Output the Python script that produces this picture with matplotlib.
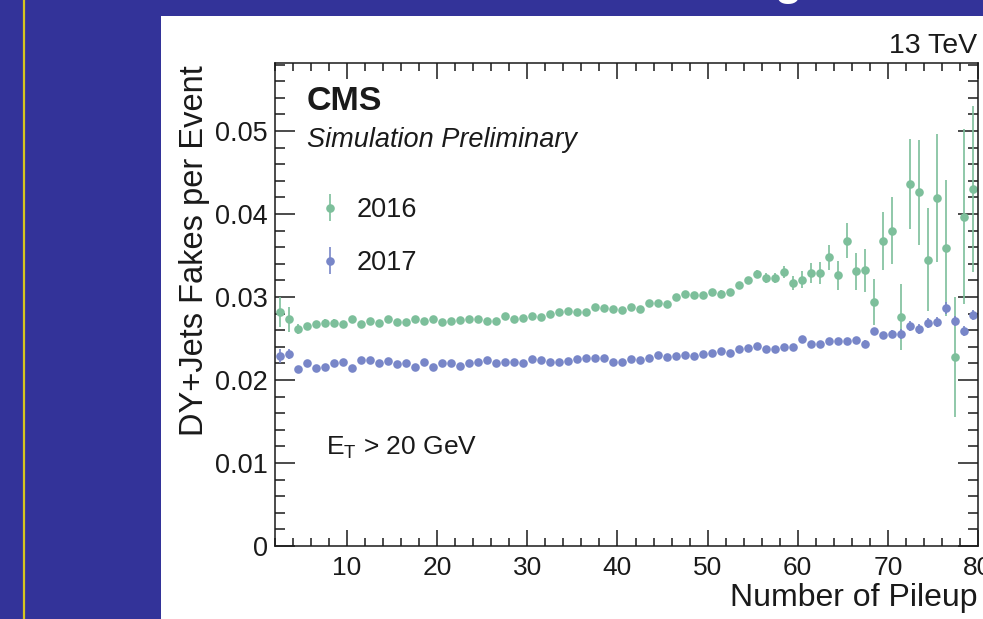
import matplotlib
matplotlib.use("Agg")
import matplotlib.pyplot as plt
from matplotlib.lines import Line2D
from matplotlib.patches import Rectangle
from matplotlib.ticker import MultipleLocator
import numpy as np

plt.rcParams['font.family'] = ['Liberation Sans', 'DejaVu Sans']

# bin centres of the pileup histogram (bins of width 1 from 2 to 80)
pileup = np.arange(2.5, 80.0, 1.0)

fakes_2016 = [
    0.0282, 0.0273, 0.0262, 0.0265, 0.0267, 0.0269, 0.0269, 0.0267, 0.0273, 0.0267,
    0.0271, 0.0269, 0.0274, 0.0270, 0.0270, 0.0273, 0.0271, 0.0273, 0.0270, 0.0271,
    0.0272, 0.0273, 0.0273, 0.0271, 0.0271, 0.0277, 0.0274, 0.0275, 0.0277, 0.0276,
    0.0280, 0.0282, 0.0283, 0.0282, 0.0282, 0.0288, 0.0287, 0.0285, 0.0284, 0.0288,
    0.0286, 0.0293, 0.0293, 0.0292, 0.0300, 0.0304, 0.0302, 0.0302, 0.0306, 0.0304,
    0.0306, 0.0314, 0.0320, 0.0328, 0.0323, 0.0323, 0.0330, 0.0317, 0.0321, 0.0329,
    0.0329, 0.0348, 0.0326, 0.0368, 0.0331, 0.0332, 0.0294, 0.0367, 0.0380, 0.0276,
    0.0436, 0.0426, 0.0345, 0.0419, 0.0359, 0.0228, 0.0397, 0.0430,
]
err_2016 = [
    0.0018, 0.0015, 0.0006, 0.0004, 0.0004, 0.0004, 0.0004, 0.0004, 0.0004, 0.0003,
    0.0003, 0.0003, 0.0003, 0.0003, 0.0003, 0.0003, 0.0003, 0.0003, 0.0003, 0.0002,
    0.0002, 0.0002, 0.0002, 0.0002, 0.0002, 0.0002, 0.0002, 0.0002, 0.0002, 0.0002,
    0.0002, 0.0002, 0.0002, 0.0002, 0.0002, 0.0002, 0.0002, 0.0002, 0.0002, 0.0003,
    0.0003, 0.0003, 0.0003, 0.0003, 0.0003, 0.0003, 0.0003, 0.0003, 0.0003, 0.0004,
    0.0004, 0.0004, 0.0004, 0.0004, 0.0006, 0.0006, 0.0007, 0.0008, 0.0010, 0.0012,
    0.0013, 0.0015, 0.0017, 0.0021, 0.0022, 0.0026, 0.0028, 0.0035, 0.0040, 0.0040,
    0.0054, 0.0063, 0.0062, 0.0077, 0.0082, 0.0072, 0.0105, 0.0100,
]
fakes_2017 = [
    0.0229, 0.0231, 0.0213, 0.0220, 0.0215, 0.0216, 0.0221, 0.0222, 0.0214, 0.0224,
    0.0224, 0.0221, 0.0223, 0.0219, 0.0221, 0.0216, 0.0222, 0.0216, 0.0220, 0.0221,
    0.0217, 0.0220, 0.0222, 0.0224, 0.0221, 0.0222, 0.0222, 0.0220, 0.0225, 0.0224,
    0.0222, 0.0222, 0.0223, 0.0225, 0.0226, 0.0226, 0.0226, 0.0222, 0.0222, 0.0225,
    0.0224, 0.0227, 0.0230, 0.0228, 0.0229, 0.0230, 0.0229, 0.0231, 0.0233, 0.0235,
    0.0232, 0.0237, 0.0239, 0.0241, 0.0237, 0.0237, 0.0240, 0.0240, 0.0250, 0.0243,
    0.0243, 0.0247, 0.0247, 0.0247, 0.0248, 0.0244, 0.0259, 0.0254, 0.0256, 0.0256,
    0.0265, 0.0262, 0.0269, 0.0270, 0.0287, 0.0271, 0.0259, 0.0278,
]
err_2017 = [
    0.0008, 0.0006, 0.0002, 0.0002, 0.0002, 0.0002, 0.0002, 0.0002, 0.0002, 0.0002,
    0.0002, 0.0002, 0.0002, 0.0002, 0.0002, 0.0002, 0.0002, 0.0002, 0.0002, 0.0002,
    0.0002, 0.0002, 0.0002, 0.0002, 0.0002, 0.0002, 0.0002, 0.0002, 0.0002, 0.0002,
    0.0002, 0.0002, 0.0002, 0.0002, 0.0002, 0.0002, 0.0002, 0.0002, 0.0002, 0.0002,
    0.0002, 0.0002, 0.0002, 0.0002, 0.0002, 0.0002, 0.0002, 0.0002, 0.0002, 0.0003,
    0.0003, 0.0003, 0.0003, 0.0003, 0.0003, 0.0003, 0.0003, 0.0003, 0.0003, 0.0004,
    0.0004, 0.0004, 0.0004, 0.0004, 0.0004, 0.0004, 0.0004, 0.0004, 0.0004, 0.0006,
    0.0006, 0.0006, 0.0006, 0.0006, 0.0007, 0.0006, 0.0006, 0.0006,
]

x_ticks = [10, 20, 30, 40, 50, 60, 70, 80]
y_ticks = [0, 0.01, 0.02, 0.03, 0.04, 0.05]
y_ticklabels = ['0', '0.01', '0.02', '0.03', '0.04', '0.05']

green = '#7dbf9b'
blue = '#7886c8'
ink = '#1a1a1a'

W, H = 983, 619
fig = plt.figure(figsize=(W / 100, H / 100), dpi=100, facecolor='#333399')


def fx(px):
    return px / W


def fy(py):
    return 1 - py / H


# slide decoration: white panel for the plot and thin yellow rule on the left
fig.patches.append(Rectangle((fx(161), 0), 1 - fx(161), fy(16), transform=fig.transFigure,
                             facecolor='white', edgecolor='none', zorder=-10))
fig.lines.append(Line2D([fx(23.5), fx(23.5)], [0, 1], transform=fig.transFigure,
                        color='#d6c620', lw=1.6, zorder=-10))
# bottom of the cut-off slide title
fig.text(fx(788), fy(-5), 'g', color='white', fontsize=32, weight='bold',
         ha='center', va='baseline')

ax = fig.add_axes([fx(275), fy(546), fx(978) - fx(275), fy(63) - fy(546)])
ax.set_facecolor('white')

ax.errorbar(pileup, fakes_2016, yerr=err_2016, fmt='o', ms=6.2, color=green,
            ecolor=green, elinewidth=1.2, capsize=0, mew=0, label='2016')
ax.errorbar(pileup, fakes_2017, yerr=err_2017, fmt='o', ms=6.2, color=blue,
            ecolor=blue, elinewidth=1.2, capsize=0, mew=0, label='2017')

ax.set_xlim(2, 80)
ax.set_ylim(0, 0.0582)
ax.set_xticks(x_ticks)
ax.set_xticklabels([str(t) for t in x_ticks])
ax.set_yticks(y_ticks)
ax.set_yticklabels(y_ticklabels)
ax.xaxis.set_minor_locator(MultipleLocator(2))
ax.yaxis.set_minor_locator(MultipleLocator(0.002))

ax.tick_params(which='both', direction='in', top=True, right=True, color=ink, width=1.1)
ax.tick_params(axis='y', which='major', length=14.5, pad=5, labelsize=19.5, labelcolor=ink)
ax.tick_params(axis='y', which='minor', length=7.5)
ax.tick_params(axis='x', which='major', length=11.5, pad=7.5, labelsize=19, labelcolor=ink)
ax.tick_params(axis='x', which='minor', length=6)
for s in ax.spines.values():
    s.set_color(ink)
    s.set_linewidth(1.1)

# axis titles, ROOT style (aligned to the far end of each axis)
fig.text(fx(977), fy(606), 'Number of Pileup', ha='right', va='baseline',
         fontsize=23, color=ink)
fig.text(fx(194), fy(65), 'DY+Jets Fakes per Event', rotation=90, ha='center',
         va='top', fontsize=23.5, color=ink)

fig.text(fx(977), fy(53), '13 TeV', ha='right', va='baseline', fontsize=20.5, color=ink)
fig.text(fx(307), fy(110), 'CMS', ha='left', va='baseline', fontsize=24.5,
         weight='bold', color=ink)
fig.text(fx(307), fy(147), 'Simulation Preliminary', ha='left', va='baseline',
         fontsize=19.5, style='italic', color=ink)
fig.text(fx(326), fy(455), r'$\mathregular{E_{T}}$ > 20 GeV', ha='left', va='baseline',
         fontsize=19, color=ink)

ax.legend(loc='upper left', bbox_to_anchor=(fx(316), fy(197)),
          bbox_transform=fig.transFigure, frameon=False, fontsize=19.5,
          handlelength=1.0, handletextpad=0.5, labelspacing=1.0,
          borderpad=0, borderaxespad=0, labelcolor=ink)

fig.savefig('out.png', dpi=100, facecolor=fig.get_facecolor())
